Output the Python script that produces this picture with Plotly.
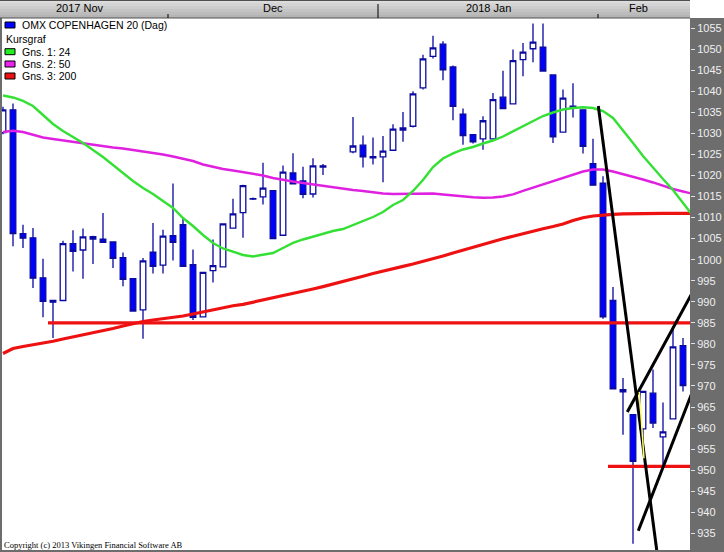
import plotly.graph_objects as go

# ---------------- data ----------------
# trading-day slots (10 px apart); slots 33 and 34 (Christmas) have no candle
slots = list(range(0, 33)) + list(range(35, 69))

opens = [1030.2, 1035.6, 1006.2, 1005.2, 995.7, 990.3, 990.3, 1003.8, 1002.3, 1005.5,
         1004.9, 1004.2, 1000.5, 995.5, 988.1, 1001.8, 998.7, 1005.7, 1008.3, 998.8,
         986.4, 997.4, 998.3, 1007.5, 1011.2, 1014.5, 1014.9, 1016.4, 1005.8, 1020.6,
         1018.7, 1015.6, 1022.3,
         1025.6, 1027.2, 1024.5, 1024.4, 1026.0, 1031.3, 1031.7, 1040.8, 1048.3, 1051.2,
         1045.8, 1034.6, 1029.7, 1028.7, 1028.7, 1038.6, 1037.0, 1047.5, 1050.1, 1050.5,
         1043.9, 1030.3, 1036.5, 1035.6, 1022.8, 1018.2, 990.3, 968.6, 963.2, 959.8,
         968.3, 957.9, 962.2, 979.6]
highs = [1036.3, 1037.1, 1008.3, 1007.5, 1000.2, 990.4, 1004.5, 1007.0, 1007.4, 1005.7,
         1011.1, 1004.2, 1001.7, 995.5, 1000.4, 1008.7, 1007.1, 1018.1, 1009.9, 1002.4,
         997.0, 1004.8, 1008.5, 1014.5, 1017.8, 1014.8, 1023.0, 1016.4, 1022.4, 1025.3,
         1022.1, 1024.1, 1022.7,
         1033.9, 1029.5, 1029.0, 1029.4, 1032.2, 1035.1, 1040.0, 1048.7, 1053.2, 1051.9,
         1046.1, 1035.9, 1029.7, 1034.1, 1039.6, 1044.9, 1049.9, 1051.5, 1056.1, 1056.1,
         1043.9, 1040.4, 1041.9, 1035.6, 1028.7, 1019.8, 993.5, 971.9, 963.2, 968.7,
         973.9, 966.1, 984.2, 981.4]
lows = [1029.8, 1003.2, 1002.8, 993.3, 986.3, 981.4, 990.3, 997.2, 995.5, 999.0,
        1004.1, 998.0, 993.7, 987.8, 981.2, 996.7, 996.7, 999.8, 998.4, 985.7,
        986.4, 994.6, 998.3, 1007.4, 1005.2, 1014.2, 1013.1, 1005.0, 1005.8, 1018.0,
        1014.6, 1014.8, 1020.1,
        1025.3, 1021.9, 1022.6, 1018.4, 1026.0, 1028.0, 1031.4, 1040.4, 1047.8, 1042.6,
        1033.1, 1027.3, 1027.6, 1026.1, 1028.7, 1035.9, 1037.0, 1043.6, 1046.9, 1044.8,
        1027.7, 1030.3, 1033.8, 1025.2, 1017.7, 986.0, 969.3, 958.4, 932.5, 957.0,
        960.0, 951.3, 962.2, 968.7]
closes = [1035.6, 1006.2, 1005.1, 995.6, 990.1, 989.9, 1003.8, 1002.0, 1005.4, 1004.9,
          1004.1, 1000.3, 995.3, 987.8, 999.7, 998.4, 1005.6, 1004.1, 998.4, 986.3,
          997.0, 998.6, 1008.5, 1010.9, 1017.6, 1014.4, 1017.0, 1005.0, 1020.8, 1018.0,
          1015.5, 1022.3, 1022.0,
          1027.0, 1024.4, 1024.2, 1025.8, 1031.0, 1030.8, 1039.4, 1047.7, 1050.3, 1045.1,
          1036.4, 1029.5, 1028.0, 1033.0, 1038.0, 1035.9, 1047.3, 1049.3, 1051.7, 1044.8,
          1029.2, 1038.4, 1036.0, 1026.9, 1017.7, 986.4, 969.3, 969.1, 952.1, 968.7,
          961.2, 959.1, 979.3, 970.1]

# moving averages, one value per slot 0..69
ma_slots = list(range(70))
ma24 = [1039.00, 1038.53, 1037.70, 1036.51, 1034.37, 1032.23, 1030.57, 1029.14, 1027.72, 1026.06,
        1024.39, 1022.49, 1020.59, 1018.69, 1017.03, 1015.61, 1013.94, 1012.28, 1009.90, 1008.00,
        1005.87, 1003.97, 1002.66, 1001.83, 1001.12, 1000.76, 1001.12, 1001.59, 1002.78, 1003.97,
        1004.80, 1005.51, 1006.22, 1006.82, 1007.29, 1008.24, 1009.19, 1010.14, 1011.33, 1012.99,
        1014.18, 1016.32, 1018.93, 1022.02, 1024.04, 1025.23, 1026.18, 1026.77, 1027.60, 1028.31,
        1029.26, 1030.45, 1031.64, 1032.83, 1034.13, 1034.96, 1035.68, 1036.03, 1036.20, 1036.03,
        1035.32, 1033.66, 1030.81, 1027.72, 1024.63, 1021.78, 1019.17, 1016.56, 1013.47, 1010.40]
ma50 = [1030.33, 1030.64, 1030.33, 1029.62, 1029.03, 1028.67, 1028.31, 1028.08, 1027.72, 1027.36,
        1027.01, 1026.65, 1026.41, 1026.06, 1025.82, 1025.46, 1024.99, 1024.51, 1024.04, 1023.44,
        1022.61, 1022.02, 1021.54, 1021.19, 1020.83, 1020.36, 1020.00, 1019.41, 1018.93, 1018.57,
        1018.22, 1017.86, 1017.51, 1017.15, 1016.91, 1016.56, 1016.32, 1015.96, 1015.72, 1015.61,
        1015.61, 1015.61, 1015.72, 1015.72, 1015.49, 1015.25, 1015.01, 1014.82, 1014.73, 1014.77,
        1015.01, 1015.53, 1016.32, 1017.10, 1017.86, 1018.57, 1019.52, 1020.24, 1020.95, 1021.43,
        1021.43, 1020.95, 1020.36, 1019.64, 1019.05, 1018.34, 1017.51, 1016.79, 1016.20, 1015.65]
ma200 = [977.72, 978.91, 979.38, 979.74, 980.21, 980.62, 981.16, 981.64, 982.04, 982.52,
         983.06, 983.66, 984.25, 984.85, 985.32, 985.68, 985.96, 986.27, 986.63, 987.10,
         987.58, 988.10, 988.62, 989.05, 989.38, 989.88, 990.38, 990.86, 991.38, 991.97,
         992.47, 993.04, 993.61, 994.18, 994.85, 995.44, 996.08, 996.72, 997.34, 997.86,
         998.41, 998.98, 999.55, 1000.14, 1000.86, 1001.57, 1002.28, 1002.99, 1003.68, 1004.32,
         1004.96, 1005.58, 1006.22, 1006.84, 1007.36, 1007.89, 1008.48, 1009.29, 1009.95, 1010.38,
         1010.67, 1010.78, 1010.90, 1010.97, 1011.02, 1011.02, 1011.02, 1011.02, 1011.02, 1011.02]

# hand-drawn trend lines (slot, value)
support_985_x = [4.5, 69.0]
support_985_y = [985.0, 985.0]
support_951_x = [60.5, 69.0]
support_951_y = [950.9, 950.9]
fall_line_x = [59.53, 65.7]
fall_line_y = [1036.5, 925.1]
upper_channel_x = [62.43, 69.0]
upper_channel_y = [963.8, 992.5]
lower_channel_x = [63.53, 69.0]
lower_channel_y = [935.6, 969.0]
yellow_x = [63.63, 64.1]
yellow_y = [968.6, 952.8]

month_labels = ["2017 Nov", "Dec", "2018 Jan", "Feb"]
month_label_pos = [7.7, 27.0, 48.5, 63.5]
month_bounds = [16.5, 37.5, 59.5]
year_bound = 37.5

y_ticks = list(range(935, 1060, 5))

legend_items = [("OMX COPENHAGEN 20 (Dag)", "#0000ff"), ("Kursgraf", None),
                ("Gns. 1: 24", "#22ee22"), ("Gns. 2: 50", "#ee22ee"), ("Gns. 3: 200", "#ee1111")]

# ---------------- figure ----------------
W, H = 724, 552
ML, MR, MT, MB = 2, 34, 18, 2
PW, PH = W - ML - MR, H - MT - MB


def px_x(px):
    return (px - ML) / PW


def px_y(py):
    return (H - MB - py) / PH


fig = go.Figure()

fig.add_trace(go.Candlestick(
    x=slots, open=opens, high=highs, low=lows, close=closes,
    increasing=dict(line=dict(color="#0a0aa0", width=1.3), fillcolor="#ffffff"),
    decreasing=dict(line=dict(color="#0a0aa0", width=1.3), fillcolor="#0000ff"),
    whiskerwidth=0, hoverinfo="skip",
))

fig.add_trace(go.Scatter(x=ma_slots, y=ma200, mode="lines",
                         line=dict(color="#ee1111", width=3.2), hoverinfo="skip"))
fig.add_trace(go.Scatter(x=ma_slots, y=ma50, mode="lines",
                         line=dict(color="#e020e0", width=2.4), hoverinfo="skip"))
fig.add_trace(go.Scatter(x=ma_slots, y=ma24, mode="lines",
                         line=dict(color="#33e033", width=2.4), hoverinfo="skip"))

for xs, ys in [(support_985_x, support_985_y), (support_951_x, support_951_y)]:
    fig.add_trace(go.Scatter(x=xs, y=ys, mode="lines",
                             line=dict(color="#ee1111", width=3.2), hoverinfo="skip"))
for xs, ys in [(fall_line_x, fall_line_y), (upper_channel_x, upper_channel_y),
               (lower_channel_x, lower_channel_y)]:
    fig.add_trace(go.Scatter(x=xs, y=ys, mode="lines",
                             line=dict(color="#000000", width=3), hoverinfo="skip"))
fig.add_trace(go.Scatter(x=yellow_x, y=yellow_y, mode="lines",
                         line=dict(color="#ffff66", width=1.5), hoverinfo="skip"))

shapes = []
annotations = []

# top month bar (gradient bands)
bands = ["#dcdcdc", "#d4d4d4", "#cccccc", "#c4c4c4", "#bcbcbc", "#b4b4b4"]
band_h = 18 / len(bands)
for k, col in enumerate(bands):
    shapes.append(dict(type="rect", xref="paper", yref="paper",
                       x0=px_x(0), x1=px_x(690), y0=px_y(band_h * (k + 1)), y1=px_y(band_h * k),
                       fillcolor=col, line=dict(width=0), layer="above"))
shapes.append(dict(type="rect", xref="paper", yref="paper",
                   x0=px_x(690), x1=px_x(724), y0=px_y(18), y1=px_y(0),
                   fillcolor="#ffffff", line=dict(width=0), layer="above"))
shapes.append(dict(type="line", xref="paper", yref="paper",
                   x0=px_x(0), x1=px_x(690), y0=px_y(0.5), y1=px_y(0.5),
                   line=dict(color="#505050", width=1), layer="above"))
shapes.append(dict(type="line", xref="paper", yref="paper",
                   x0=px_x(0), x1=px_x(690), y0=px_y(18), y1=px_y(18),
                   line=dict(color="#505050", width=1), layer="above"))
for b in month_bounds:
    top = 4 if b == year_bound else 14
    shapes.append(dict(type="line", xref="x", yref="paper",
                       x0=b, x1=b, y0=px_y(18), y1=px_y(top),
                       line=dict(color="#000000", width=1), layer="above"))
for lab, pos in zip(month_labels, month_label_pos):
    annotations.append(dict(x=pos, y=px_y(8), xref="x", yref="paper", text=lab,
                            showarrow=False, xanchor="center", yanchor="middle",
                            font=dict(family="Liberation Sans, Arial", size=11, color="#000000")))

# legend (top-left)
leg_y = [25, 39, 51.7, 64, 76]
for (txt, col), cy in zip(legend_items, leg_y):
    if col is not None:
        shapes.append(dict(type="rect", xref="paper", yref="paper",
                           x0=px_x(5), x1=px_x(15), y0=px_y(cy + 3), y1=px_y(cy - 3),
                           fillcolor=col, line=dict(color="#000000", width=1), layer="above"))
        tx = 20
    else:
        tx = 4
    annotations.append(dict(x=px_x(tx), y=px_y(cy), xref="paper", yref="paper", text=txt,
                            showarrow=False, xanchor="left", yanchor="middle",
                            font=dict(family="Liberation Sans, Arial", size=10.5, color="#000000")))

annotations.append(dict(x=px_x(2), y=px_y(544.5), xref="paper", yref="paper",
                        text="Copyright (c) 2013 Vikingen Financial Software AB",
                        showarrow=False, xanchor="left", yanchor="middle",
                        font=dict(family="Liberation Serif, Times New Roman", size=8.5,
                                  color="#000000")))

fig.update_layout(
    width=W, height=H,
    margin=dict(l=ML, r=MR, t=MT, b=MB, pad=0),
    paper_bgcolor="#6d6d6d", plot_bgcolor="#ffffff",
    showlegend=False, boxgap=0.2,
    shapes=shapes, annotations=annotations,
    xaxis=dict(range=[-0.1, 68.7], showgrid=False, zeroline=False, showticklabels=False,
               ticks="", showline=False, rangeslider=dict(visible=False)),
    yaxis=dict(range=[931.04, 1057.41], side="right", tickvals=y_ticks,
               ticktext=[str(v) for v in y_ticks], showgrid=False, zeroline=False,
               ticks="outside", ticklen=4, tickwidth=1, tickcolor="#e0e0e0",
               tickfont=dict(family="Liberation Sans, Arial", size=11, color="#f0f0f0"),
               showline=False),
)

fig.write_html("out.html", config={"displayModeBar": False},
               post_script="document.body.style.margin='0';document.body.style.padding='0';"
                           "document.body.style.overflow='hidden';")
